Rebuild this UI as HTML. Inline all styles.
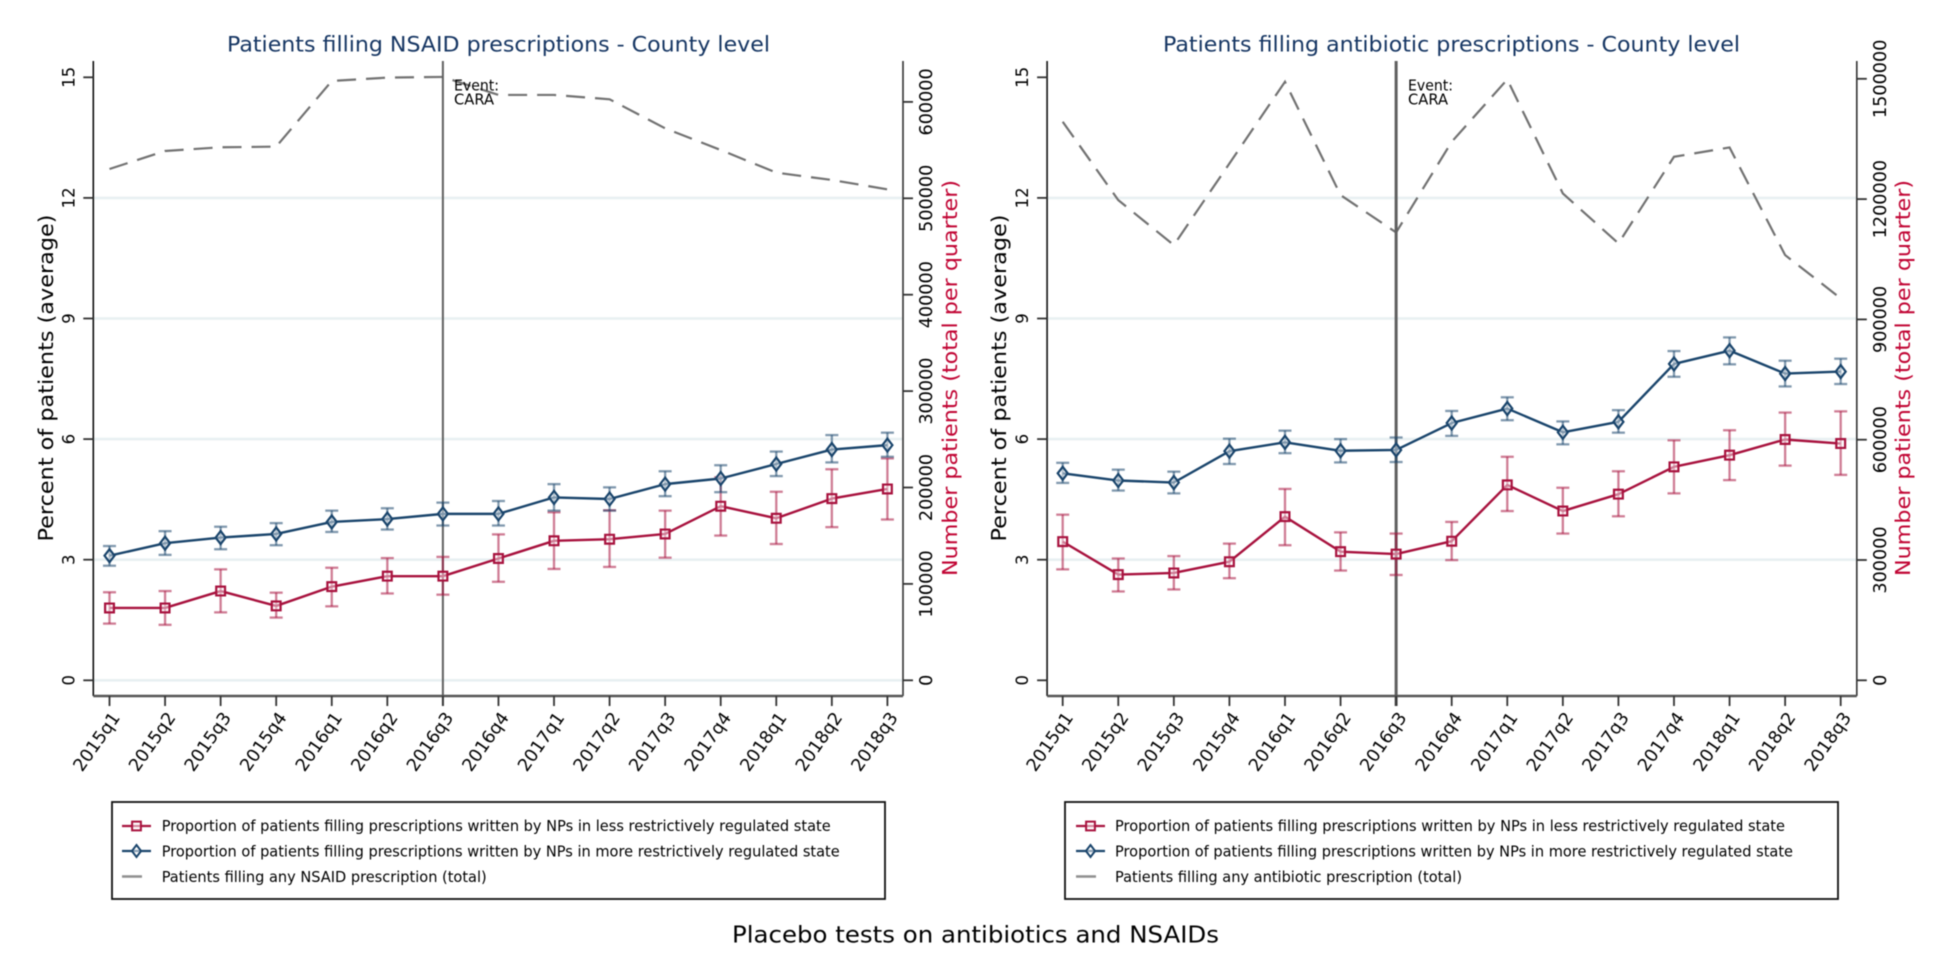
<!DOCTYPE html>
<html lang="en">
<head>
<meta charset="utf-8">
<title>Placebo tests on antibiotics and NSAIDs</title>
<style>
html,body{margin:0;padding:0;background:#fff;width:1950px;height:975px;overflow:hidden}
svg{display:block;filter:blur(0.45px)}
text{font-family:"DejaVu Sans","Liberation Sans",sans-serif}
</style>
</head>
<body>
<svg id="chart" xmlns="http://www.w3.org/2000/svg" width="1950" height="975" viewBox="0 0 1950 975">
  <rect width="1950" height="975" fill="#ffffff"/>
  <text x="975.5" y="942.5" font-size="23" text-anchor="middle" textLength="487" lengthAdjust="spacingAndGlyphs" fill="#000">Placebo tests on antibiotics and NSAIDs</text>

  <g id="panel-nsaid">
    <text x="498.5" y="51.5" font-size="21.5" text-anchor="middle" textLength="543" lengthAdjust="spacingAndGlyphs" fill="#163663">Patients filling NSAID prescriptions - County level</text>
    <text transform="translate(53,378) rotate(-90)" font-size="20.5" text-anchor="middle" textLength="327" lengthAdjust="spacingAndGlyphs" fill="#000">Percent of patients (average)</text>
    <text transform="translate(957,378) rotate(-90)" font-size="20.5" text-anchor="middle" textLength="396" lengthAdjust="spacingAndGlyphs" fill="#c10534">Number patients (total per quarter)</text>
    <rect x="112" y="802" width="773" height="97" fill="#fff" stroke="#111" stroke-width="1.8"/>
    <text x="161.7" y="831" font-size="15.5" textLength="669" lengthAdjust="spacingAndGlyphs" fill="#000">Proportion of patients filling prescriptions written by NPs in less restrictively regulated state</text>
    <text x="161.7" y="856.5" font-size="15.5" textLength="678" lengthAdjust="spacingAndGlyphs" fill="#000">Proportion of patients filling prescriptions written by NPs in more restrictively regulated state</text>
    <text x="161.7" y="882" font-size="15.5" textLength="325" lengthAdjust="spacingAndGlyphs" fill="#000">Patients filling any NSAID prescription (total)</text>
  </g>

  <g id="panel-abx">
    <text x="1451.5" y="51.5" font-size="21.5" text-anchor="middle" textLength="577" lengthAdjust="spacingAndGlyphs" fill="#163663">Patients filling antibiotic prescriptions - County level</text>
    <text transform="translate(1006,378) rotate(-90)" font-size="20.5" text-anchor="middle" textLength="327" lengthAdjust="spacingAndGlyphs" fill="#000">Percent of patients (average)</text>
    <text transform="translate(1910,378) rotate(-90)" font-size="20.5" text-anchor="middle" textLength="396" lengthAdjust="spacingAndGlyphs" fill="#c10534">Number patients (total per quarter)</text>
    <rect x="1065" y="802" width="773" height="97" fill="#fff" stroke="#111" stroke-width="1.8"/>
    <text x="1115" y="831" font-size="15.5" textLength="670" lengthAdjust="spacingAndGlyphs" fill="#000">Proportion of patients filling prescriptions written by NPs in less restrictively regulated state</text>
    <text x="1115" y="856.5" font-size="15.5" textLength="678" lengthAdjust="spacingAndGlyphs" fill="#000">Proportion of patients filling prescriptions written by NPs in more restrictively regulated state</text>
    <text x="1115" y="882" font-size="15.5" textLength="347" lengthAdjust="spacingAndGlyphs" fill="#000">Patients filling any antibiotic prescription (total)</text>
  </g>
</svg>

<script>
const categories = ['2015q1','2015q2','2015q3','2015q4','2016q1','2016q2','2016q3','2016q4','2017q1','2017q2','2017q3','2017q4','2018q1','2018q2','2018q3'];
const eventCategory = '2016q3';
const percentTicks = [0,3,6,9,12,15];
const nsaidCountTicks = [0,100000,200000,300000,400000,500000,600000];
const abxCountTicks = [0,300000,600000,900000,1200000,1500000];

const nsaidLess = [1.80,1.80,2.22,1.85,2.33,2.59,2.59,3.03,3.47,3.51,3.64,4.33,4.03,4.52,4.76];
const nsaidLessLow = [1.41,1.38,1.69,1.56,1.84,2.16,2.13,2.45,2.77,2.82,3.05,3.60,3.39,3.81,4.00];
const nsaidLessHigh = [2.19,2.22,2.76,2.18,2.80,3.04,3.07,3.63,4.18,4.23,4.22,5.05,4.69,5.25,5.52];
const nsaidMore = [3.10,3.41,3.55,3.64,3.94,4.01,4.14,4.14,4.55,4.51,4.88,5.02,5.38,5.74,5.85];
const nsaidMoreLow = [2.85,3.12,3.26,3.36,3.69,3.75,3.85,3.85,4.22,4.22,4.58,4.68,5.08,5.42,5.56];
const nsaidMoreHigh = [3.34,3.71,3.82,3.91,4.22,4.28,4.42,4.46,4.88,4.80,5.20,5.35,5.69,6.10,6.16];
const nsaidTotal = [530400,549100,552900,553600,621700,625200,625900,607200,607200,602700,572600,550100,526600,519000,509300];

const abxLess = [3.45,2.63,2.67,2.95,4.07,3.20,3.14,3.46,4.86,4.21,4.63,5.31,5.60,5.99,5.89];
const abxLessLow = [2.76,2.21,2.26,2.54,3.36,2.73,2.62,2.99,4.21,3.65,4.08,4.65,4.98,5.34,5.11];
const abxLessHigh = [4.12,3.03,3.09,3.40,4.76,3.68,3.65,3.94,5.56,4.79,5.20,5.97,6.22,6.66,6.69];
const abxMore = [5.15,4.97,4.92,5.70,5.92,5.71,5.73,6.40,6.76,6.17,6.43,7.87,8.20,7.63,7.68];
const abxMoreLow = [4.91,4.72,4.65,5.38,5.65,5.42,5.43,6.08,6.47,5.87,6.16,7.55,7.86,7.31,7.37];
const abxMoreHigh = [5.41,5.24,5.19,6.01,6.21,6.00,6.04,6.70,7.04,6.44,6.72,8.19,8.53,7.95,8.00];
const abxTotal = [1392800,1197500,1085300,1288900,1492500,1210000,1116900,1342900,1498300,1214100,1089500,1305500,1328800,1060400,952400];

const NS = 'http://www.w3.org/2000/svg';
const LESS = '#a8123e';
const MORE = '#1a456c';

function make(parent, tag, name, attrs, txt) {
  const el = document.createElementNS(NS, tag);
  
  
  for (const k in attrs) el.setAttribute(k, attrs[k]);
  if (txt !== undefined) el.textContent = txt;
  parent.appendChild(el);
  return el;
}

function squarePts(cx, cy, r) {
  return [[cx-r,cy-r],[cx+r,cy-r],[cx+r,cy+r],[cx-r,cy+r]].map(p => p.join(',')).join(' ');
}
function diamondPts(cx, cy, r) {
  return [[cx,cy-r*1.3],[cx+r,cy],[cx,cy+r*1.3],[cx-r,cy]].map(p => p.join(',')).join(' ');
}

function drawSeries(g, prefix, xs, ys, lowY, highY, color, kind) {
  xs.forEach((x, i) => {
    const col = make(g, 'g', prefix + '-ci-' + categories[i], {stroke: color, 'stroke-opacity': 0.55, 'stroke-width': 2.3, fill: 'none'});
    make(col, 'line', prefix + '-ci-stem', {x1: x, x2: x, y1: lowY[i], y2: highY[i]});
    make(col, 'line', prefix + '-ci-cap-low', {x1: x-6.5, x2: x+6.5, y1: lowY[i], y2: lowY[i]});
    make(col, 'line', prefix + '-ci-cap-high', {x1: x-6.5, x2: x+6.5, y1: highY[i], y2: highY[i]});
  });
  make(g, 'polyline', prefix + '-line', {points: xs.map((x, i) => x + ',' + ys[i]).join(' '), fill: 'none', stroke: color, 'stroke-width': 2.4, 'stroke-linejoin': 'round'});
  xs.forEach((x, i) => {
    const pts = kind === 'square' ? squarePts(x, ys[i], 4.4) : diamondPts(x, ys[i], 5);
    make(g, 'polygon', prefix + '-marker-' + categories[i], {points: pts, fill: '#ffffff', 'fill-opacity': 0.45, stroke: color, 'stroke-width': 2.2});
  });
}

function drawPanel(root, cfg) {
  const top = 61, bottom = 696, y0 = 680.3, yPerPct = 40.2;
  const xAt = i => cfg.firstX + i * (cfg.lastX - cfg.firstX) / (categories.length - 1);
  const yPct = v => y0 - v * yPerPct;
  const yCount = v => y0 - v * cfg.countScale;
  const g = make(root, 'g', cfg.name + '-plot', {});

  percentTicks.forEach(t => {
    if (t === 15 || (t === 0 && !cfg.zeroGrid)) return;
    make(g, 'line', cfg.name + '-gridline-' + t, {x1: cfg.left, x2: cfg.right, y1: yPct(t), y2: yPct(t), stroke: '#e8f0f2', 'stroke-width': 2.6});
  });

  make(g, 'polyline', cfg.name + '-total-line', {
    points: cfg.total.map((v, i) => xAt(i) + ',' + yCount(v)).join(' '),
    fill: 'none', stroke: '#727272', 'stroke-width': 2.2, 'stroke-dasharray': '19 10'
  });

  const evX = xAt(categories.indexOf(eventCategory));
  make(g, 'line', cfg.name + '-event-line', {x1: evX, x2: evX, y1: top, y2: 706, stroke: '#5f5f5f', 'stroke-width': cfg.eventWidth});
  make(g, 'text', cfg.name + '-event-label-line1', {x: cfg.eventTextX, y: 90.7, 'font-size': 15, fill: '#000', textLength: 45, lengthAdjust: 'spacingAndGlyphs'}, 'Event:');
  make(g, 'text', cfg.name + '-event-label-line2', {x: cfg.eventTextX, y: 104.5, 'font-size': 15, fill: '#000', textLength: 40, lengthAdjust: 'spacingAndGlyphs'}, 'CARA');

  make(g, 'line', cfg.name + '-left-axis', {x1: cfg.left, x2: cfg.left, y1: top, y2: bottom, stroke: '#111', 'stroke-width': 1.6});
  make(g, 'line', cfg.name + '-right-axis', {x1: cfg.right, x2: cfg.right, y1: top, y2: bottom, stroke: '#333', 'stroke-width': 1.6});
  make(g, 'line', cfg.name + '-x-axis', {x1: cfg.left, x2: cfg.right, y1: bottom, y2: bottom, stroke: '#555', 'stroke-width': 2.4});

  percentTicks.forEach(t => {
    const y = yPct(t);
    make(g, 'line', cfg.name + '-left-tick-' + t, {x1: cfg.left - 10, x2: cfg.left, y1: y, y2: y, stroke: '#333', 'stroke-width': 1.8});
    make(g, 'text', cfg.name + '-left-tick-label-' + t, {transform: 'translate(' + (cfg.left - 19) + ',' + y + ') rotate(-90)', 'font-size': 16.5, 'text-anchor': 'middle', fill: '#000'}, String(t));
  });

  cfg.countTicks.forEach(t => {
    const y = yCount(t);
    make(g, 'line', cfg.name + '-right-tick-' + t, {x1: cfg.right, x2: cfg.right + 10, y1: y, y2: y, stroke: '#333', 'stroke-width': 1.8});
    make(g, 'text', cfg.name + '-right-tick-label-' + t, {transform: 'translate(' + (cfg.right + 29) + ',' + y + ') rotate(-90)', 'font-size': 17.6, 'text-anchor': 'middle', fill: '#000'}, String(t));
  });

  categories.forEach((c, i) => {
    const x = xAt(i);
    make(g, 'line', cfg.name + '-x-tick-' + c, {x1: x, x2: x, y1: bottom, y2: 706, stroke: '#333', 'stroke-width': 1.8});
    make(g, 'text', cfg.name + '-x-tick-label-' + c, {transform: 'translate(' + (x + 6) + ',714) rotate(-55)', dy: '0.36em', 'font-size': 17.6, 'text-anchor': 'end', fill: '#000'}, c);
  });

  const xs = categories.map((c, i) => xAt(i));
  drawSeries(g, cfg.name + '-less', xs, cfg.less.map(yPct), cfg.lessLow.map(yPct), cfg.lessHigh.map(yPct), LESS, 'square');
  drawSeries(g, cfg.name + '-more', xs, cfg.more.map(yPct), cfg.moreLow.map(yPct), cfg.moreHigh.map(yPct), MORE, 'diamond');

  const kx1 = cfg.keyX, kx2 = cfg.keyX + 29, kc = (kx1 + kx2) / 2;
  make(root, 'line', cfg.name + '-legend-key-less-line', {x1: kx1, x2: kx2, y1: 826, y2: 826, stroke: LESS, 'stroke-width': 2.2});
  make(root, 'polygon', cfg.name + '-legend-key-less-marker', {points: squarePts(kc, 826, 4.4), fill: '#fff', 'fill-opacity': 0.5, stroke: LESS, 'stroke-width': 2});
  make(root, 'line', cfg.name + '-legend-key-more-line', {x1: kx1, x2: kx2, y1: 851, y2: 851, stroke: MORE, 'stroke-width': 2.2});
  make(root, 'polygon', cfg.name + '-legend-key-more-marker', {points: diamondPts(kc, 851, 4.6), fill: '#fff', 'fill-opacity': 0.5, stroke: MORE, 'stroke-width': 2});
  make(root, 'line', cfg.name + '-legend-key-total', {x1: kx1, x2: kx1 + 20, y1: 876.5, y2: 876.5, stroke: '#8f8f8f', 'stroke-width': 2.6});
}

drawPanel(document.getElementById('panel-nsaid'), {
  name: 'nsaid', left: 93.3, right: 903, firstX: 109.5, lastX: 887.4,
  countScale: 96.4 / 100000, countTicks: nsaidCountTicks, total: nsaidTotal,
  less: nsaidLess, lessLow: nsaidLessLow, lessHigh: nsaidLessHigh,
  more: nsaidMore, moreLow: nsaidMoreLow, moreHigh: nsaidMoreHigh,
  eventWidth: 2, eventTextX: 454, zeroGrid: true, keyX: 122
});
drawPanel(document.getElementById('panel-abx'), {
  name: 'antibiotic', left: 1047.1, right: 1856.8, firstX: 1062.7, lastX: 1840.7,
  countScale: 120.3 / 300000, countTicks: abxCountTicks, total: abxTotal,
  less: abxLess, lessLow: abxLessLow, lessHigh: abxLessHigh,
  more: abxMore, moreLow: abxMoreLow, moreHigh: abxMoreHigh,
  eventWidth: 3, eventTextX: 1408, zeroGrid: false, keyX: 1076
});
</script>
</body>
</html>
